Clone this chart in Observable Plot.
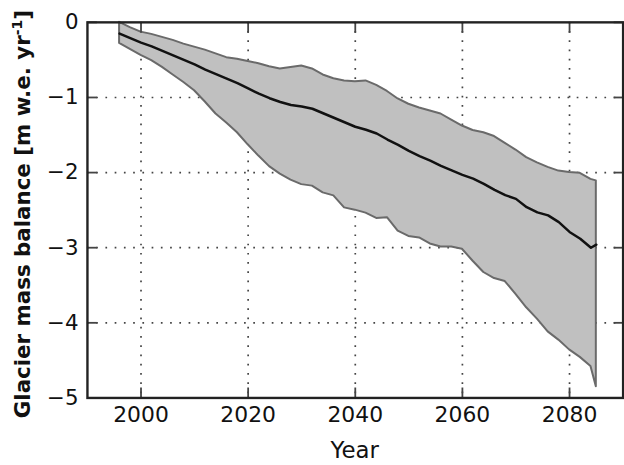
<!DOCTYPE html>
<html>
<head>
<meta charset="utf-8">
<script src="https://cdn.jsdelivr.net/npm/d3@7"></script>
<script src="https://cdn.jsdelivr.net/npm/@observablehq/plot@0.6"></script>
<style>
  html, body { margin: 0; padding: 0; background: #fff; overflow: hidden; }
  #chart { width: 624px; height: 465px; overflow: hidden; }
</style>
</head>
<body>
<div id="chart"></div>
<script>
const years = [1996, 1998, 2000, 2002, 2004, 2006, 2008, 2010, 2012, 2014, 2016, 2018, 2020, 2022, 2024, 2026, 2028, 2030, 2032, 2034, 2036, 2038, 2040, 2042, 2044, 2046, 2048, 2050, 2052, 2054, 2056, 2058, 2060, 2062, 2064, 2066, 2068, 2070, 2072, 2074, 2076, 2078, 2080, 2082, 2084, 2085];
const meanBalance = [-0.15, -0.21, -0.27, -0.32, -0.38, -0.44, -0.50, -0.56, -0.63, -0.69, -0.75, -0.81, -0.88, -0.95, -1.01, -1.06, -1.10, -1.12, -1.15, -1.21, -1.27, -1.33, -1.39, -1.43, -1.48, -1.56, -1.63, -1.71, -1.78, -1.84, -1.91, -1.97, -2.03, -2.08, -2.15, -2.23, -2.30, -2.35, -2.46, -2.53, -2.57, -2.66, -2.79, -2.88, -3.00, -2.96];
const upperBalance = [0.00, -0.07, -0.13, -0.16, -0.20, -0.24, -0.29, -0.33, -0.37, -0.42, -0.47, -0.49, -0.52, -0.55, -0.59, -0.62, -0.60, -0.58, -0.62, -0.70, -0.75, -0.78, -0.79, -0.78, -0.84, -0.92, -1.02, -1.09, -1.14, -1.18, -1.22, -1.30, -1.38, -1.44, -1.47, -1.52, -1.61, -1.70, -1.80, -1.87, -1.93, -1.98, -2.00, -2.01, -2.09, -2.11];
const lowerBalance = [-0.28, -0.36, -0.44, -0.51, -0.60, -0.70, -0.80, -0.91, -1.06, -1.22, -1.34, -1.47, -1.63, -1.78, -1.92, -2.02, -2.10, -2.16, -2.18, -2.27, -2.31, -2.47, -2.50, -2.54, -2.61, -2.60, -2.78, -2.85, -2.87, -2.95, -2.99, -2.99, -3.02, -3.18, -3.33, -3.41, -3.45, -3.62, -3.80, -3.95, -4.12, -4.23, -4.36, -4.46, -4.58, -4.85];

const xTicks = [2000, 2020, 2040, 2060, 2080];
const yTicks = [0, -1, -2, -3, -4, -5];
const xDomain = [1990, 2090];
const yDomain = [-5, 0];
const xLabel = "Year";
const yLabelMain = "Glacier mass balance [m w.e. yr";
const yLabelSup = "-1";
const yLabelEnd = "]";

const data = years.map((year, i) => ({
  year, mean: meanBalance[i], upper: upperBalance[i], lower: lowerBalance[i]
}));

const tickColor = "#444";
const font = "DejaVu Sans, sans-serif";
const intFmt = d3.format("d");
const blank = () => "";

const plot = Plot.plot({
  width: 628,
  height: 465,
  marginLeft: 87.5,
  marginRight: 1.4,
  marginTop: 22,
  marginBottom: 65,
  style: { fontFamily: font, color: "#111", background: "#fff" },
  x: { domain: xDomain, label: null },
  y: { domain: yDomain, label: null },
  marks: [
    Plot.gridX(xTicks, { stroke: "#444", strokeOpacity: 1, strokeWidth: 1.7, strokeDasharray: "1.7,7.6" }),
    Plot.gridY(yTicks.slice(1, -1), { stroke: "#444", strokeOpacity: 1, strokeWidth: 1.7, strokeDasharray: "1.7,7.6" }),
    Plot.areaY(data, { x: "year", y1: "lower", y2: "upper", fill: "#c0c0c0", stroke: "#6a6a6a", strokeWidth: 2 }),
    Plot.line(data, { x: "year", y: "mean", stroke: "#111", strokeWidth: 2.5 }),
    // inward tick marks
    Plot.axisX(xTicks, { anchor: "bottom", tickSize: 10, dy: -10, tickFormat: blank, stroke: tickColor, strokeWidth: 1.8, label: null }),
    Plot.axisX(xTicks, { anchor: "top", tickSize: 10, dy: 10, tickFormat: blank, stroke: tickColor, strokeWidth: 1.8, label: null }),
    Plot.axisY(yTicks, { anchor: "left", tickSize: 10, dx: 10, tickFormat: blank, stroke: tickColor, strokeWidth: 1.8, label: null }),
    Plot.axisY(yTicks, { anchor: "right", tickSize: 10, dx: -10, tickFormat: blank, stroke: tickColor, strokeWidth: 1.8, label: null }),
    // tick labels
    Plot.axisX(xTicks, { anchor: "bottom", tickSize: 0, tickPadding: 9, tickFormat: intFmt, fontSize: 22, label: null, fill: "#111" }),
    Plot.axisY(yTicks, { anchor: "left", tickSize: 0, tickPadding: 9, tickFormat: intFmt, fontSize: 21.5, label: null, fill: "#111" }),
    Plot.frame({ stroke: "#222", strokeWidth: 2.4 })
  ]
});

const svg = d3.select(plot);
svg.append("text")
  .attr("x", 357)
  .attr("y", 461)
  .attr("text-anchor", "middle")
  .attr("font-family", font)
  .attr("font-size", 23)
  .attr("fill", "#111")
  .text(xLabel);

const yl = svg.append("text")
  .attr("transform", "translate(30,215.5) rotate(-90)")
  .attr("text-anchor", "middle")
  .attr("font-family", font)
  .attr("font-weight", "bold")
  .attr("font-size", 21.5)
  .attr("fill", "#111");
yl.append("tspan").text(yLabelMain);
yl.append("tspan").attr("dy", -8).attr("font-size", 14).text(yLabelSup);
yl.append("tspan").attr("dy", 8).text(yLabelEnd);

document.getElementById("chart").appendChild(plot);
</script>
</body>
</html>
